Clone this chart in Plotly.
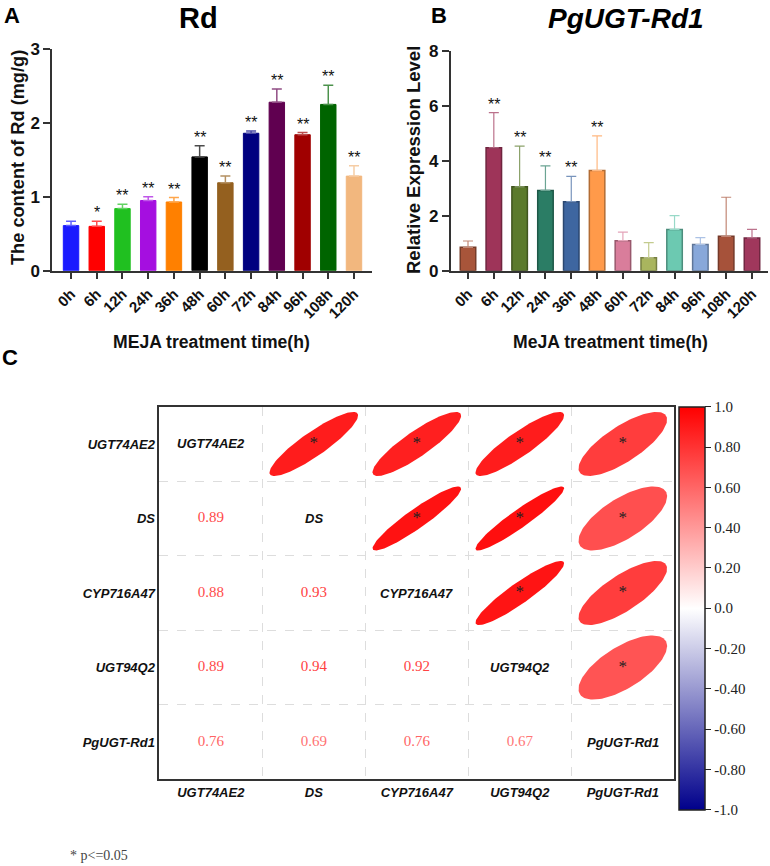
import numpy as np
import plotly.graph_objects as go

# ---------------- data ----------------
times = ["0h", "6h", "12h", "24h", "36h", "48h", "60h", "72h", "84h", "96h", "108h", "120h"]

rd_mean = [0.61, 0.60, 0.84, 0.95, 0.93, 1.54, 1.19, 1.86, 2.28, 1.84, 2.25, 1.28]
rd_upper = [0.67, 0.67, 0.90, 1.00, 0.99, 1.69, 1.28, 1.89, 2.46, 1.87, 2.51, 1.42]
rd_sig = ["", "*", "**", "**", "**", "**", "**", "**", "**", "**", "**", "**"]

expr_mean = [0.85, 4.47, 3.05, 2.92, 2.51, 3.64, 1.09, 0.47, 1.50, 0.95, 1.25, 1.19]
expr_upper = [1.08, 5.75, 4.53, 3.81, 3.43, 4.90, 1.40, 1.02, 2.00, 1.20, 2.67, 1.50]
expr_sig = ["", "**", "**", "**", "**", "**", "", "", "", "", "", ""]

genes = ["UGT74AE2", "DS", "CYP716A47", "UGT94Q2", "PgUGT-Rd1"]
corr = [
    [1.00, 0.89, 0.88, 0.89, 0.76],
    [0.89, 1.00, 0.93, 0.94, 0.69],
    [0.88, 0.93, 1.00, 0.92, 0.76],
    [0.89, 0.94, 0.92, 1.00, 0.67],
    [0.76, 0.69, 0.76, 0.67, 1.00],
]
cbar_ticks = [1.0, 0.8, 0.6, 0.4, 0.2, 0.0, -0.2, -0.4, -0.6, -0.8, -1.0]
cbar_text = ["1.0", "0.80", "0.60", "0.40", "0.20", "0.0", "-0.20", "-0.40", "-0.60", "-0.80", "-1.0"]

# ---------------- styles ----------------
W, H = 770, 866
colors_a = ["#1A1AFF", "#FF0000", "#20C020", "#A50FE0", "#FF8000", "#000000",
            "#94601F", "#000080", "#600050", "#A00000", "#006400", "#F2B77E"]
colors_b = ["#A8553A", "#9E3459", "#5B7A2B", "#2B7D65", "#3E66A0", "#FF9A4A",
            "#D97D9B", "#A9B55E", "#6CC9B1", "#88A8DA", "#A6523A", "#A0375C"]
SANS = "Liberation Sans, Arial, sans-serif"
SERIF = "Liberation Serif, DejaVu Serif, serif"


def hex2rgb(h):
    h = h.lstrip("#")
    return [int(h[i:i + 2], 16) for i in (0, 2, 4)]


def mix(h, target, f):
    c = hex2rgb(h)
    t = hex2rgb(target)
    return "rgb(%d,%d,%d)" % tuple(round(c[k] + (t[k] - c[k]) * f) for k in range(3))


def px_x(p):
    return p / W


def px_y(p):
    return (H - p) / H


cscale = [[0.0, "#00008B"], [0.5, "#FFFFFF"], [1.0, "#FF0000"]]


def corr_color(r):
    if r >= 0:
        return mix("#FFFFFF", "#FF0000", r)
    return mix("#FFFFFF", "#00008B", -r)


fig = go.Figure()

# ---------------- Panel A ----------------
for i, t in enumerate(times):
    fig.add_trace(go.Bar(
        x=[t], y=[rd_mean[i]], width=0.6,
        marker=dict(color=colors_a[i], line=dict(color=colors_a[i], width=1)),
        error_y=dict(type="data", symmetric=False, array=[rd_upper[i] - rd_mean[i]],
                     arrayminus=[0], color=mix(colors_a[i], "#FFFFFF", 0.3),
                     thickness=1.5, width=5),
        xaxis="x", yaxis="y", showlegend=False))

# ---------------- Panel B ----------------
for i, t in enumerate(times):
    fig.add_trace(go.Bar(
        x=[t], y=[expr_mean[i]], width=0.6,
        marker=dict(color=colors_b[i], line=dict(color=mix(colors_b[i], "#000000", 0.3), width=1.5)),
        error_y=dict(type="data", symmetric=False, array=[expr_upper[i] - expr_mean[i]],
                     arrayminus=[0], color=mix(colors_b[i], "#FFFFFF", 0.3),
                     thickness=1.2, width=5),
        xaxis="x2", yaxis="y2", showlegend=False))

annotations = []
for i, t in enumerate(times):
    if rd_sig[i]:
        annotations.append(dict(x=t, y=rd_upper[i], xref="x", yref="y", text=rd_sig[i],
                                showarrow=False, xanchor="center", yanchor="bottom", yshift=-2,
                                font=dict(family=SANS, size=16, color="#111")))
    if expr_sig[i]:
        annotations.append(dict(x=t, y=expr_upper[i], xref="x2", yref="y2", text=expr_sig[i],
                                showarrow=False, xanchor="center", yanchor="bottom", yshift=-2,
                                font=dict(family=SANS, size=16, color="#111")))

# ---------------- Panel C ----------------
n = len(genes)
tt = np.linspace(0, 2 * np.pi, 120)
star_x, star_y, star_r = [], [], []
num_x, num_y, num_t, num_c = [], [], [], []
for i in range(n):
    for j in range(n):
        cx = j + 0.5
        cy = n - i - 0.5
        r = corr[i][j]
        if j > i:
            a = np.arccos(r) / 2
            ex = cx + 0.43 * np.cos(tt + a)
            ey = cy + 0.43 * np.cos(tt - a)
            fig.add_trace(go.Scatter(
                x=ex, y=ey, mode="lines", fill="toself", fillcolor=corr_color(r),
                line=dict(width=0, color=corr_color(r)), hoverinfo="skip",
                xaxis="x3", yaxis="y3", showlegend=False))
            star_x.append(cx)
            star_y.append(cy)
            star_r.append(r)
        elif j < i:
            num_x.append(cx)
            num_y.append(cy)
            num_t.append("%.2f" % r)
            num_c.append(corr_color(r * 0.8))
        else:
            annotations.append(dict(x=cx, y=cy, xref="x3", yref="y3",
                                    xanchor="center", yanchor="middle",
                                    text="<b><i>%s</i></b>" % genes[i], showarrow=False,
                                    font=dict(family=SANS, size=13, color="#111")))

fig.add_trace(go.Scatter(
    x=star_x, y=star_y, mode="text", text=["*"] * len(star_x),
    textfont=dict(family=SERIF, size=17, color="#222"), textposition="middle center",
    xaxis="x3", yaxis="y3", showlegend=False, hoverinfo="skip"))
fig.add_trace(go.Scatter(
    x=num_x, y=num_y, mode="text", text=num_t,
    textfont=dict(family=SERIF, size=15, color=num_c), textposition="middle center",
    xaxis="x3", yaxis="y3", showlegend=False, hoverinfo="skip"))
# colour bar carrier
fig.add_trace(go.Scatter(
    x=star_x, y=star_y, mode="markers",
    marker=dict(size=0.1, opacity=0, color=star_r, colorscale=cscale, cmin=-1, cmax=1,
                showscale=True,
                colorbar=dict(x=px_x(679), xanchor="left", y=px_y(406.7), yanchor="top",
                              len=403 / H, lenmode="fraction", thickness=26,
                              ypad=0, xpad=0,
                              outlinewidth=1.5, outlinecolor="#222",
                              tickvals=cbar_ticks, ticktext=cbar_text,
                              ticks="outside", ticklen=6, tickcolor="#222",
                              tickfont=dict(family=SERIF, size=15, color="#222"))),
    xaxis="x3", yaxis="y3", showlegend=False, hoverinfo="skip"))


def pa(x, y, text, size, family=SANS, angle=0, color="#111", xanchor="center"):
    return dict(x=px_x(x), y=px_y(y), xref="paper", yref="paper", text=text,
                showarrow=False, xanchor=xanchor, yanchor="middle", textangle=angle,
                font=dict(family=family, size=size, color=color))


annotations += [
    pa(12, 15, "<b>A</b>", 22, color="#000"),
    pa(439, 15, "<b>B</b>", 22, color="#000"),
    pa(10, 357, "<b>C</b>", 22, color="#000"),
    pa(199, 18, "<b>Rd</b>", 29, color="#000"),
    pa(626, 18, "<b><i>PgUGT-Rd1</i></b>", 28, color="#000"),
    pa(18, 158, "<b>The content of Rd (mg/g)</b>", 18.2, angle=-90),
    pa(414, 160, "<b>Relative Expression Level</b>", 18.5, angle=-90),
    pa(212, 342, "<b>MEJA treatment time(h)</b>", 17.6),
    pa(610, 342, "<b>MeJA treatment time(h)</b>", 17.6),
    pa(68, 855, "* p<=0.05", 14, family=SERIF, color="#444", xanchor="left"),
]

axis_common_x = dict(type="category", showline=True, linecolor="#333", linewidth=1.5,
                     ticks="outside", ticklen=7, tickwidth=1.5, tickcolor="#333",
                     tickangle=-45, showgrid=False, zeroline=False, automargin=False,
                     tickfont=dict(family=SANS, size=15, color="#111"))
axis_common_y = dict(showline=True, linecolor="#333", linewidth=1.5, ticks="outside",
                     ticklen=7, tickwidth=1.5, tickcolor="#333", showgrid=False, zeroline=False,
                     automargin=False,
                     tickfont=dict(family=SANS, size=17, color="#111"))

fig.update_layout(
    width=W, height=H, margin=dict(l=0, r=0, t=0, b=0, autoexpand=False),
    paper_bgcolor="white", plot_bgcolor="white",
    barmode="overlay", showlegend=False,
    annotations=annotations,
    xaxis=dict(axis_common_x, domain=[px_x(52), px_x(372)], anchor="y",
               range=[-0.74, 11.7],
               tickvals=times, ticktext=["<b>%s</b>" % t for t in times]),
    yaxis=dict(axis_common_y, domain=[px_y(270.7), px_y(49)], anchor="x",
               range=[0, 3], tickvals=[0, 1, 2, 3],
               ticktext=["<b>0</b>", "<b>1</b>", "<b>2</b>", "<b>3</b>"]),
    xaxis2=dict(axis_common_x, domain=[px_x(450.7), px_x(768)], anchor="y2",
                range=[-0.67, 11.62],
                tickvals=times, ticktext=["<b>%s</b>" % t for t in times]),
    yaxis2=dict(axis_common_y, domain=[px_y(270.7), px_y(50.7)], anchor="x2",
                range=[0, 8], tickvals=[0, 2, 4, 6, 8],
                ticktext=["<b>%d</b>" % v for v in [0, 2, 4, 6, 8]]),
    xaxis3=dict(domain=[px_x(159.3), px_x(674.3)], anchor="y3", range=[0, n],
                showline=True, mirror=True, linecolor="#333", linewidth=1.5,
                tickvals=[k + 0.5 for k in range(n)],
                ticktext=["<b><i>%s</i></b>" % g for g in genes],
                ticks="", showgrid=False, zeroline=False, automargin=False,
                tickfont=dict(family=SANS, size=13, color="#111"),
                minor=dict(tickvals=list(range(1, n)), showgrid=True, gridcolor="#DDDDDD",
                           griddash="dash", gridwidth=1, ticks="")),
    yaxis3=dict(domain=[px_y(779.3), px_y(406.7)], anchor="x3", range=[0, n],
                showline=True, mirror=True, linecolor="#333", linewidth=1.5,
                tickvals=[n - k - 0.5 for k in range(n)],
                ticktext=["<b><i>%s</i></b>" % g for g in genes],
                ticks="", showgrid=False, zeroline=False, automargin=False,
                tickfont=dict(family=SANS, size=13, color="#111"),
                minor=dict(tickvals=list(range(1, n)), showgrid=True, gridcolor="#DDDDDD",
                           griddash="dash", gridwidth=1, ticks="")),
)

fig.write_html("out.html")
